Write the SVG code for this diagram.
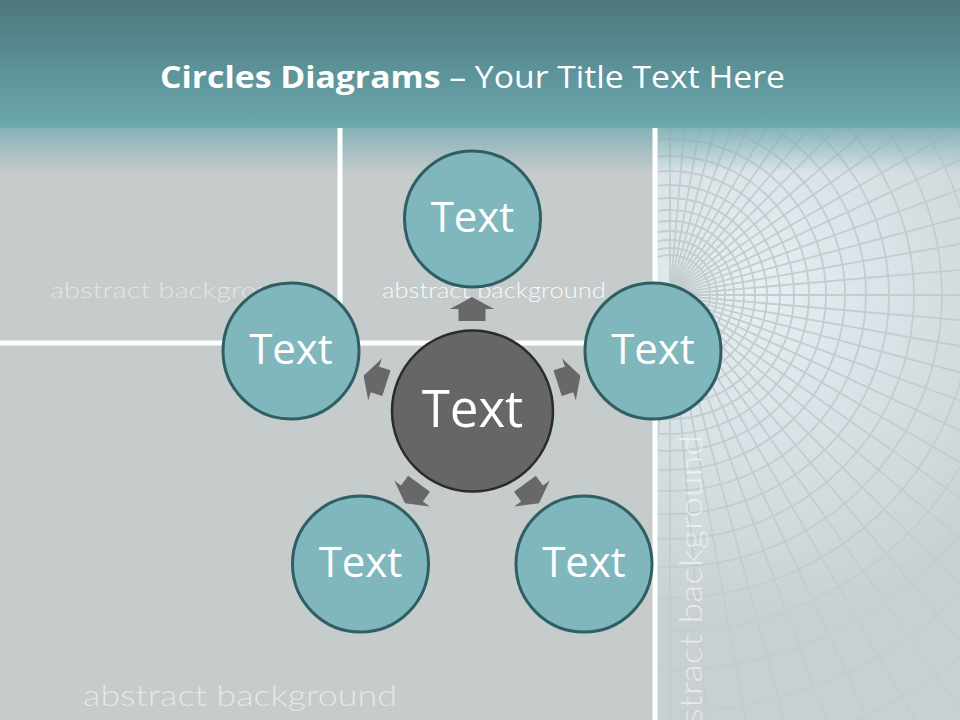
<svg xmlns="http://www.w3.org/2000/svg" width="960" height="720" viewBox="0 0 960 720">
  <defs>
    <linearGradient id="band" x1="0" y1="0" x2="0" y2="1">
      <stop offset="0" stop-color="#4c777c"/>
      <stop offset="0.6" stop-color="#5e959b"/>
      <stop offset="1" stop-color="#6ca8ae"/>
    </linearGradient>
    <linearGradient id="fade" x1="0" y1="0" x2="0" y2="1">
      <stop offset="0" stop-color="#79adb3" stop-opacity="0.85"/>
      <stop offset="1" stop-color="#79adb3" stop-opacity="0"/>
    </linearGradient>
    <radialGradient id="tunnel" cx="750" cy="290" r="330" gradientUnits="userSpaceOnUse">
      <stop offset="0" stop-color="#e6f0f4"/>
      <stop offset="0.45" stop-color="#d8e3e7"/>
      <stop offset="1" stop-color="#c9d0d1"/>
    </radialGradient>
    <clipPath id="rightPanel"><rect x="657" y="128" width="303" height="592"/></clipPath>
    <clipPath id="bottomPanel"><rect x="0" y="345" width="653" height="375"/></clipPath>
    <g id="grid" fill="none" stroke="#c4ccce" stroke-width="1.8">
      <circle cx="670" cy="295" r="40"/>
      <circle cx="670" cy="295" r="47"/>
      <circle cx="670" cy="295" r="55"/>
      <circle cx="670" cy="295" r="64"/>
      <circle cx="670" cy="295" r="74"/>
      <circle cx="670" cy="295" r="85"/>
      <circle cx="670" cy="295" r="97"/>
      <circle cx="670" cy="295" r="110"/>
      <circle cx="670" cy="295" r="124"/>
      <circle cx="670" cy="295" r="139"/>
      <circle cx="670" cy="295" r="156"/>
      <circle cx="670" cy="295" r="175"/>
      <circle cx="670" cy="295" r="196"/>
      <circle cx="670" cy="295" r="219"/>
      <circle cx="670" cy="295" r="244"/>
      <circle cx="670" cy="295" r="272"/>
      <circle cx="670" cy="295" r="303"/>
      <circle cx="670" cy="295" r="337"/>
      <circle cx="670" cy="295" r="375"/>
      <circle cx="670" cy="295" r="417"/>
      <circle cx="670" cy="295" r="464"/>
      <circle cx="670" cy="295" r="516"/>
      <path d="M670,295 L670,-305 M670,295 L775,-296 M670,295 L877,-269 M670,295 L970,-225 M670,295 L1055,-165 M670,295 L1130,-91 M670,295 L1190,-5 M670,295 L1233,90 M670,295 L1261,191 M670,295 L1270,295 M670,295 L1261,399 M670,295 L1233,500 M670,295 L1190,595 M670,295 L1130,681 M670,295 L1055,755 M670,295 L970,815 M670,295 L877,859 M670,295 L775,886 M670,295 L670,895 M670,295 L565,886 M670,295 L463,859 M670,295 L370,815 M670,295 L285,755 M670,295 L210,681 M670,295 L150,595"/>
      <path d="M670,295 L722,-301 M670,295 L826,-285 M670,295 L924,-249 M670,295 L1014,-197 M670,295 L1094,-129 M670,295 L1162,-49 M670,295 L1214,41 M670,295 L1250,140 M670,295 L1268,243 M670,295 L1268,347 M670,295 L1250,450 M670,295 L1214,549 M670,295 L1162,639 M670,295 L1094,719 M670,295 L1014,787 M670,295 L924,839 M670,295 L826,875 M670,295 L722,891 M670,295 L618,891 M670,295 L514,875 M670,295 L416,839 M670,295 L326,787 M670,295 L246,719"/>
    </g>
    <path id="arrow" d="M-13.5,12 L13.5,12 L13.5,0 L22,0 L0,-12 L-22,0 L-13.5,0 Z"/>
  </defs>
  <style>
    .outer { fill: #80b7bd; stroke: #2f5f63; stroke-width: 3; }
    .core { fill: #666666; stroke: #2b2b2b; stroke-width: 2.5; }
    .lbl { font-family: "Open Sans", "Liberation Sans", sans-serif; fill: #ffffff; text-anchor: middle; }
    .bg { font-family: Lato, "Open Sans", sans-serif; font-weight: 300; fill: #ffffff; }
    .arr { fill: #686868; }
    .divider { stroke: #ffffff; stroke-width: 5; }
  </style>

  <!-- background -->
  <rect x="0" y="0" width="960" height="720" fill="#c6cbcb"/>
  <rect x="657" y="128" width="303" height="592" fill="url(#tunnel)"/>
  <use href="#grid" clip-path="url(#rightPanel)"/>
  <g clip-path="url(#bottomPanel)" opacity="0.2"><use href="#grid"/></g>
  <rect x="0" y="0" width="960" height="128" fill="url(#band)"/>
  <rect x="0" y="128" width="960" height="45" fill="url(#fade)"/>

  <line class="divider" x1="340" y1="128" x2="340" y2="345" stroke-width="4"/>
  <line class="divider" x1="0" y1="343" x2="656" y2="343"/>
  <line class="divider" x1="655" y1="128" x2="655" y2="720"/>

  <text class="bg" x="50" y="298" font-size="21" opacity="0.5" textLength="255" lengthAdjust="spacingAndGlyphs">abstract background</text>
  <text class="bg" x="382" y="298" font-size="21" opacity="0.9" textLength="224" lengthAdjust="spacingAndGlyphs">abstract background</text>
  <text class="bg" x="83" y="706" font-size="30" opacity="0.55" textLength="314" lengthAdjust="spacingAndGlyphs">abstract background</text>
  <text class="bg" transform="translate(702,763) rotate(-90)" x="0" y="0" font-size="31" opacity="0.55" textLength="328" lengthAdjust="spacingAndGlyphs">abstract background</text>

  <!-- title -->
  <text x="160" y="88" font-family="'Open Sans', 'Liberation Sans', sans-serif" font-size="31" fill="#ffffff" textLength="625" lengthAdjust="spacingAndGlyphs"><tspan font-weight="bold">Circles Diagrams</tspan> – Your Title Text Here</text>

  <!-- connectors -->
  <g id="connectors" class="arr">
    <use href="#arrow" transform="translate(472,309)"/>
    <use href="#arrow" transform="translate(569,379.5) rotate(72)"/>
    <use href="#arrow" transform="translate(532,493.5) rotate(144)"/>
    <use href="#arrow" transform="translate(412,493.5) rotate(216)"/>
    <use href="#arrow" transform="translate(375,379.5) rotate(288)"/>
  </g>

  <!-- nodes -->
  <g id="node-center">
    <circle class="core" cx="472.5" cy="411" r="80.5"/>
    <text class="lbl" x="472.5" y="427" font-size="51">Text</text>
  </g>
  <g id="node-top">
    <circle class="outer" cx="472.5" cy="219" r="68"/>
    <text class="lbl" x="472.5" y="232" font-size="42">Text</text>
  </g>
  <g id="node-right">
    <circle class="outer" cx="653" cy="351" r="68"/>
    <text class="lbl" x="653" y="364" font-size="42">Text</text>
  </g>
  <g id="node-bottom-right">
    <circle class="outer" cx="584" cy="564" r="68"/>
    <text class="lbl" x="584" y="577" font-size="42">Text</text>
  </g>
  <g id="node-bottom-left">
    <circle class="outer" cx="360.5" cy="564" r="68"/>
    <text class="lbl" x="360.5" y="577" font-size="42">Text</text>
  </g>
  <g id="node-left">
    <circle class="outer" cx="291" cy="351" r="68"/>
    <text class="lbl" x="291" y="364" font-size="42">Text</text>
  </g>
</svg>
